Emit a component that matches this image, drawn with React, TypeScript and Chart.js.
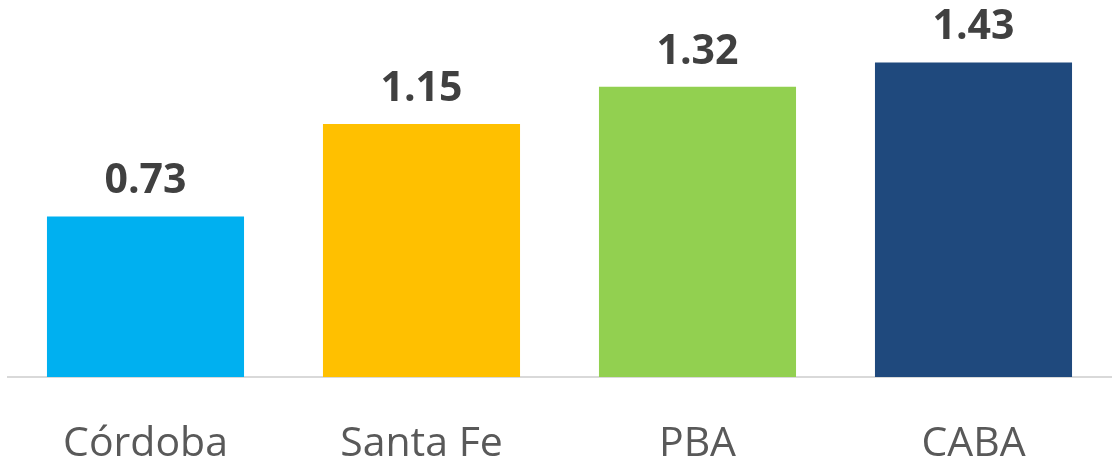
import React, { useEffect, useRef } from "react";
import { Chart, registerables } from "chart.js";

Chart.register(...registerables);

const categories = ["Córdoba", "Santa Fe", "PBA", "CABA"];
const values = [0.73, 1.15, 1.32, 1.43];
const barColors = ["#00B0F0", "#FFC000", "#92D050", "#1F497D"];

const valueLabels = {
  id: "valueLabels",
  afterDatasetsDraw(chart: any) {
    const ctx = chart.ctx;
    const meta = chart.getDatasetMeta(0);
    ctx.save();
    ctx.font = "bold 41px 'Open Sans'";
    ctx.fillStyle = "#404040";
    ctx.textAlign = "center";
    ctx.textBaseline = "alphabetic";
    meta.data.forEach((bar: any, i: number) => {
      ctx.fillText(values[i].toFixed(2), bar.x, bar.y - 23);
    });
    ctx.restore();
  },
};

export default function App() {
  const ref = useRef<HTMLCanvasElement>(null);
  useEffect(() => {
    if (!ref.current) return;
    const chart = new Chart(ref.current, {
      type: "bar",
      data: {
        labels: categories,
        datasets: [
          {
            data: values,
            backgroundColor: barColors,
            borderWidth: 0,
            barPercentage: 0.714,
            categoryPercentage: 1,
          },
        ],
      },
      options: {
        animation: false,
        responsive: false,
        maintainAspectRatio: false,
        layout: { padding: { left: 7.5, right: 0.5, top: 0, bottom: 0 } },
        plugins: { legend: { display: false }, tooltip: { enabled: false } },
        scales: {
          x: {
            grid: { display: false, drawTicks: false },
            border: { display: true, color: "#D9D9D9", width: 2 },
            ticks: {
              color: "#595959",
              font: { family: "'Open Sans'", size: 41 },
              padding: 43,
            },
            afterFit: (scale: any) => {
              scale.height = 89;
            },
          },
          y: {
            display: false,
            min: 0,
            max: 1.714,
          },
        },
      },
      plugins: [valueLabels],
    });
    return () => chart.destroy();
  }, []);
  return (
    <div style={{ position: "absolute", left: 0, top: 0, width: 1112, height: 466, background: "#fff" }}>
      <canvas ref={ref} width={1112} height={466} style={{ width: 1112, height: 466 }} />
    </div>
  );
}
